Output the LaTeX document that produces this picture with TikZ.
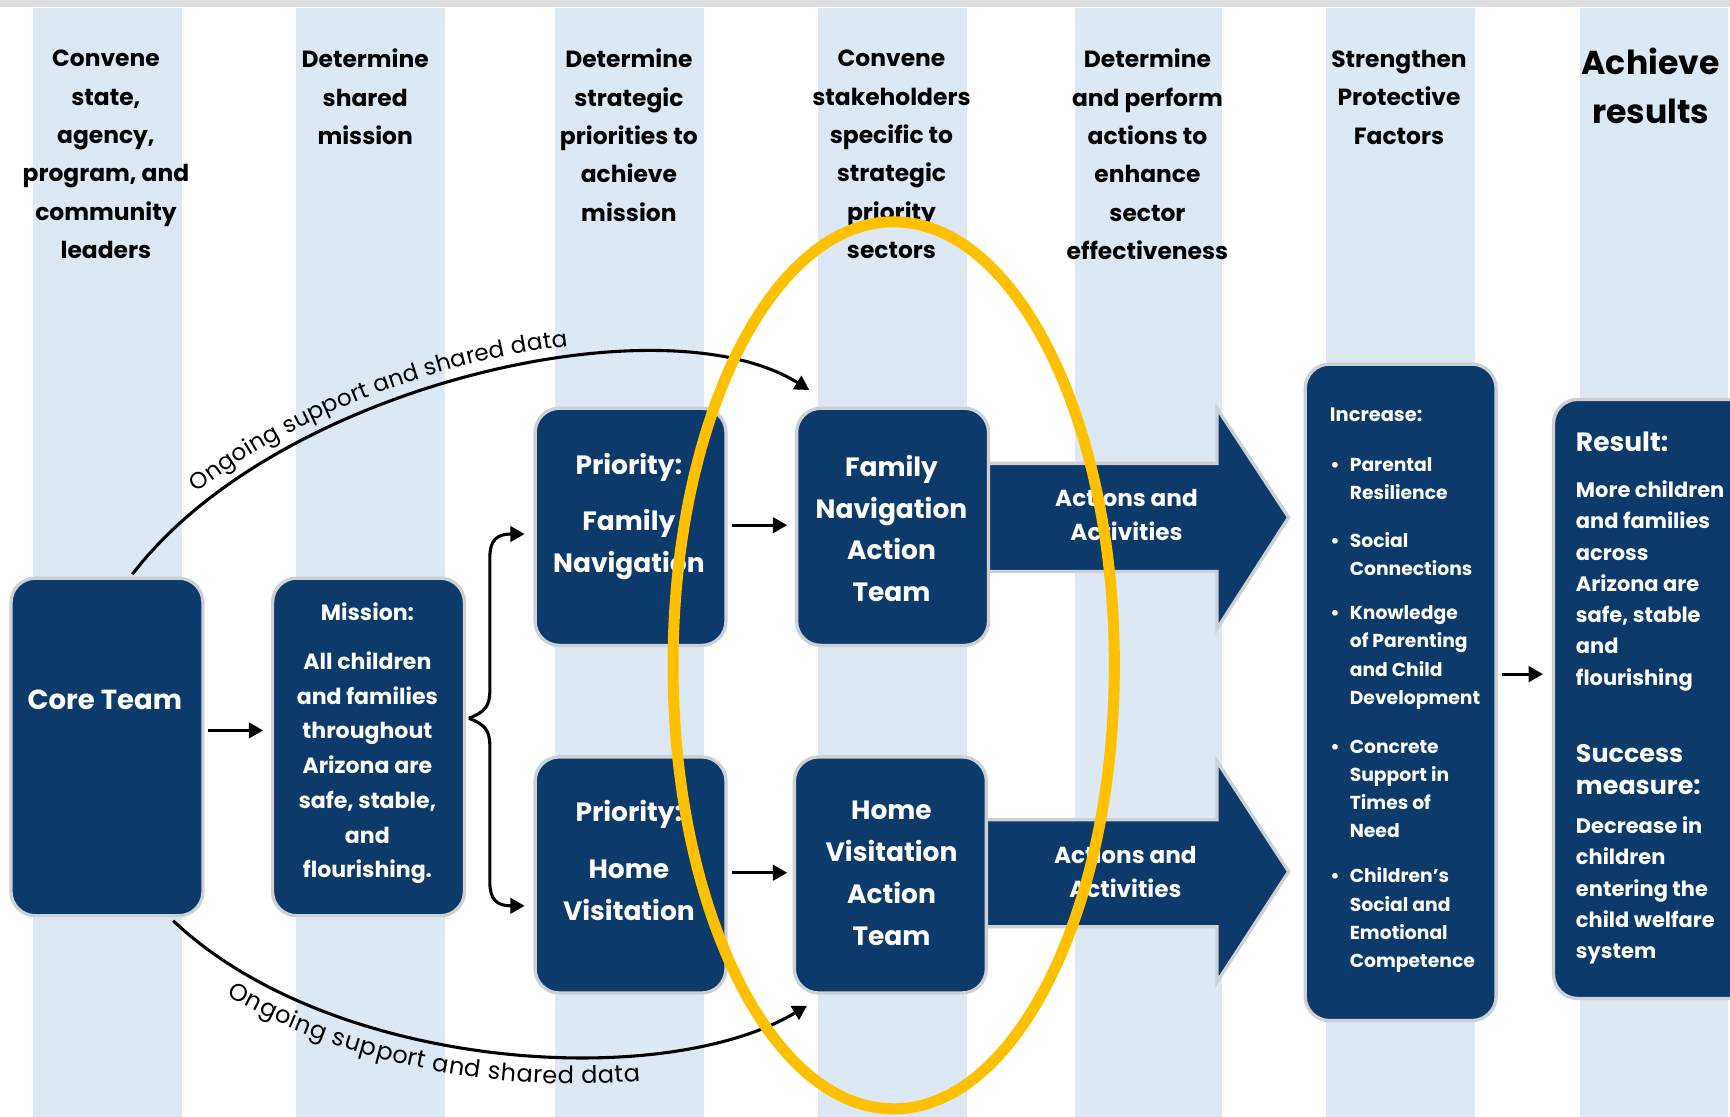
\documentclass[tikz,border=0pt]{standalone}
\usepackage{fontspec}
\setmainfont{Poppins}
\usetikzlibrary{arrows.meta,decorations.text}
\definecolor{navy}{RGB}{11,58,107}
\definecolor{stripe}{RGB}{221,232,245}
\definecolor{rim}{RGB}{205,208,212}
\definecolor{hiyellow}{RGB}{255,192,0}
\definecolor{topbar}{RGB}{222,222,222}
\newcommand\curvefont{\fontsize{10.5}{12}\selectfont}
\newcommand\curvefontb{\fontsize{10.9}{12}\selectfont}
\begin{document}
\begin{tikzpicture}[x=0.5pt,y=-0.5pt,
  box/.style={draw=rim,line width=1.5pt,fill=navy,rounded corners=11pt,inner sep=0pt},
  wt/.style={text=white,font=\bfseries\fontsize{12}{19}\selectfont,align=center,inner sep=0pt},
  hd/.style={text=black,font=\bfseries\fontsize{10.6}{17.4}\selectfont,align=center,inner sep=0pt},
  item/.style={wt,align=left,anchor=west,font=\bfseries\fontsize{8.5}{12.75}\selectfont},
  itemb/.style={wt,align=left,anchor=west,font=\bfseries\fontsize{9.5}{14.17}\selectfont},
  arr/.style={line width=1.4pt,-{Triangle[length=6.5pt,width=7pt]}},
  bigarrow/.style={draw=rim,line width=1.5pt,fill=navy},
]
\clip (0,0) rectangle (1568,1012);
\fill[white] (0,0) rectangle (1568,1012);
\fill[topbar] (0,0) rectangle (1568,6);
\foreach \a/\b in {30/165,268/403,503/638,741/876,974/1108,1202/1337,1432/1566}
  \fill[stripe] (\a,7) rectangle (\b,1012);

% headers
\node[hd] (h1) at (96,140) {Convene\\state,\\agency,\\program, and\\community\\leaders};
\node[hd] (h2) at (331,88) {Determine\\shared\\mission};
\node[hd] (h3) at (570,122.5) {Determine\\strategic\\priorities to\\achieve\\mission};
\node[hd] (h4) at (808,140) {Convene\\stakeholders\\specific to\\strategic\\priority\\sectors};
\node[hd] (h5) at (1040,140) {Determine\\and perform\\actions to\\enhance\\sector\\effectiveness};
\node[hd] (h6) at (1268,88) {Strengthen\\Protective\\Factors};
\node[hd,font=\bfseries\fontsize{15}{22}\selectfont] (h7) at (1496,78) {Achieve\\results};

% big arrows
\draw[bigarrow] (885,420) -- (1103,420) -- (1103,370) -- (1168,469) -- (1103,570) -- (1103,518) -- (885,518) -- cycle;
\draw[bigarrow] (880,743) -- (1103,743) -- (1103,690) -- (1168,790) -- (1103,890) -- (1103,840) -- (880,840) -- cycle;

% boxes
\node[box,minimum width=87pt,minimum height=153pt] (core) at (97,677) {};
\node[box,minimum width=87pt,minimum height=153pt] (mission) at (334,677) {};
\node[box,minimum width=86.5pt,minimum height=107.5pt] (pfn) at (571.5,477.5) {};
\node[box,minimum width=86.5pt,minimum height=107pt] (phv) at (571.5,793) {};
\node[box,minimum width=87pt,minimum height=107.5pt] (fnat) at (809,477.5) {};
\node[box,minimum width=87pt,minimum height=107pt] (hvat) at (807,793) {};
\node[box,minimum width=86.5pt,minimum height=297.5pt] (inc) at (1269.5,627.5) {};
\node[box,minimum width=91pt,minimum height=271.5pt] (res) at (1499,633.5) {};

% box texts
\node[wt,font=\bfseries\fontsize{12.5}{15}\selectfont] (coret) at (95,634) {Core Team};
\node[wt,font=\bfseries\fontsize{10}{15.75}\selectfont] (mist) at (333,674) {Mission:\\[6.25pt]All children\\and families\\throughout\\Arizona are\\safe, stable,\\and\\flourishing.};
\node[wt] (pfnt) at (570,468) {Priority:\\[6.5pt]Family\\Navigation};
\node[wt] (phvt) at (570,780) {Priority:\\[6.5pt]Home\\Visitation};
\node[wt] (fnatt) at (808,479) {Family\\Navigation\\Action\\Team};
\node[wt] (hvatt) at (808,791.5) {Home\\Visitation\\Action\\Team};
\node[wt,font=\bfseries\fontsize{10.5}{15.5}\selectfont] (act1) at (1021,466.5) {Actions and\\Activities};
\node[wt,font=\bfseries\fontsize{10.5}{15.5}\selectfont] (act2) at (1020,790) {Actions and\\Activities};

\node[wt,anchor=west,font=\bfseries\fontsize{8.8}{12.75}\selectfont] (inct) at (1205,376) {Increase:};
\node[item] (i1) at (1223,434) {\llap{\textbullet\hspace{4.5pt}}Parental\\Resilience};
\node[item] (i2) at (1223,502) {\llap{\textbullet\hspace{4.5pt}}Social\\Connections};
\node[item] (i3) at (1223,596) {\llap{\textbullet\hspace{4.5pt}}Knowledge\\of Parenting\\and Child\\Development};
\node[item] (i4) at (1223,715) {\llap{\textbullet\hspace{4.5pt}}Concrete\\Support in\\Times of\\Need};
\node[item] (i5) at (1223,834) {\llap{\textbullet\hspace{4.5pt}}Children’s\\Social and\\Emotional\\Competence};

\node[wt,anchor=west,font=\bfseries\fontsize{12}{14}\selectfont] (rest) at (1428,400) {Result:};
\node[itemb] (r1) at (1428,531) {More children\\and families\\across\\Arizona are\\safe, stable\\and\\flourishing};
\node[wt,anchor=west,align=left,font=\bfseries\fontsize{11.5}{14.5}\selectfont] (succ) at (1428,697.5) {Success\\measure:};
\node[itemb] (r2) at (1428,807) {Decrease in\\children\\entering the\\child welfare\\system};

% connectors
\draw[arr] ([xshift=1.5pt,yshift=7.5pt]core.east) -- ([xshift=-3.5pt,yshift=7.5pt]mission.west);
\coordinate (bt) at (425,651);
\draw[arr] (bt) .. controls (440,645) and (444,640) .. (444,625) -- (444,505) .. controls (444,490) and (450,484) .. ([xshift=-4pt,yshift=-3.25pt]pfn.west);
\draw[arr] (bt) .. controls (440,657) and (444,662) .. (444,677) -- (444,800) .. controls (444,815) and (450,821) .. ([xshift=-4pt,yshift=-14pt]phv.west);
\draw[arr] ([xshift=2pt,yshift=0.75pt]pfn.east) -- ([xshift=-3.5pt,yshift=0.75pt]fnat.west);
\draw[arr] ([xshift=2pt,yshift=1pt]phv.east) -- ([xshift=-2.5pt,yshift=1pt]hvat.west);
\draw[arr] ([xshift=2pt,yshift=8.25pt]inc.east) -- ([xshift=-4pt,yshift=11.25pt]res.west);

\draw[arr] ([xshift=11.5pt,yshift=1pt]core.north) .. controls (250,350) and (600,270) .. ([xshift=6.5pt,yshift=7.5pt]fnat.north west);
\path[decorate,decoration={text along path,text={|\curvefont|Ongoing support and shared data},text align={left indent=46pt},raise=5.5pt}]
  ([xshift=11.5pt,yshift=1pt]core.north) .. controls (250,350) and (600,270) .. ([xshift=6.5pt,yshift=7.5pt]fnat.north west);

\draw[arr] ([xshift=30pt,yshift=-1.5pt]core.south) .. controls (300,970) and (600,990) .. ([xshift=6.5pt,yshift=-5pt]hvat.south west);
\path[decorate,decoration={text along path,text={|\curvefontb|Ongoing support and shared data},text align={left indent=38pt},raise=-12.5pt}]
  ([xshift=30pt,yshift=-1.5pt]core.south) .. controls (300,970) and (600,990) .. ([xshift=6.5pt,yshift=-5pt]hvat.south west);

% highlight
\draw[hiyellow,line width=5pt] (810,603) ellipse [x radius=100pt,y radius=201pt];
\end{tikzpicture}
\end{document}
